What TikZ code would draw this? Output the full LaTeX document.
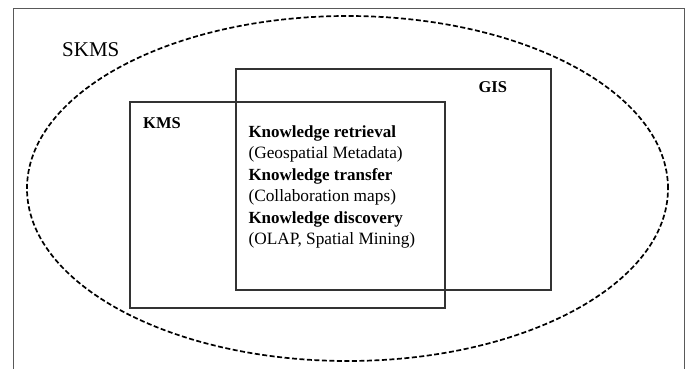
\documentclass[tikz,border=0pt]{standalone}
\usepackage{fontspec}
\setmainfont{Liberation Serif}
\usetikzlibrary{shapes.geometric}
\tikzset{
  frameline/.style={draw=black!65, line width=1pt},
  setbox/.style={draw=black!80, line width=1.2pt, minimum width=#1, inner sep=0pt},
  skmsell/.style={ellipse, draw=black, line width=1.7pt, dash pattern=on 5pt off 2.5pt, inner sep=0pt, minimum width=641pt, minimum height=345pt},
  bigtxt/.style={anchor=base west, inner sep=0pt, font=\fontsize{21}{25}\selectfont},
  lbl/.style={anchor=base west, inner sep=0pt, font=\fontsize{16.5}{20}\selectfont\bfseries},
  itemb/.style={anchor=base west, inner sep=0pt, font=\fontsize{17}{21}\selectfont\bfseries},
  itemr/.style={anchor=base west, inner sep=0pt, font=\fontsize{17.3}{21}\selectfont},
}
\begin{document}
\begin{tikzpicture}[x=1pt,y=-1pt]
\useasboundingbox (0,0) rectangle (686,369);
\fill[white] (0,0) rectangle (686,369);
% outer frame
\coordinate (f1) at (13,369);
\coordinate (f2) at (13,9);
\coordinate (f3) at (684,9);
\coordinate (f4) at (684,369);
\draw[frameline] (f1) -- (f2) -- (f3) -- (f4);
% SKMS ellipse
\node[skmsell] (skms) at (347.5,188.5) {};
% boxes
\node[setbox=315pt, minimum height=221pt] (gis) at (393.5,179.5) {};
\node[setbox=315pt, minimum height=206pt] (kms) at (287.5,205) {};
% labels
\node[bigtxt] (skmslbl) at (62,56.7) {SKMS};
\node[lbl] (kmslbl) at (143,128.3) {KMS};
\node[lbl] (gislbl) at (478.3,92.3) {GIS};
% contents
\node[itemb] (t1) at (248.3,137.3) {Knowledge retrieval};
\node[itemr] (t2) at (248.3,158.8) {(Geospatial Metadata)};
\node[itemb] (t3) at (248.3,180.3) {Knowledge transfer};
\node[itemr] (t4) at (248.3,201.8) {(Collaboration maps)};
\node[itemb] (t5) at (248.3,223.3) {Knowledge discovery};
\node[itemr] (t6) at (248.3,244.8) {(OLAP, Spatial Mining)};
\end{tikzpicture}
\end{document}
